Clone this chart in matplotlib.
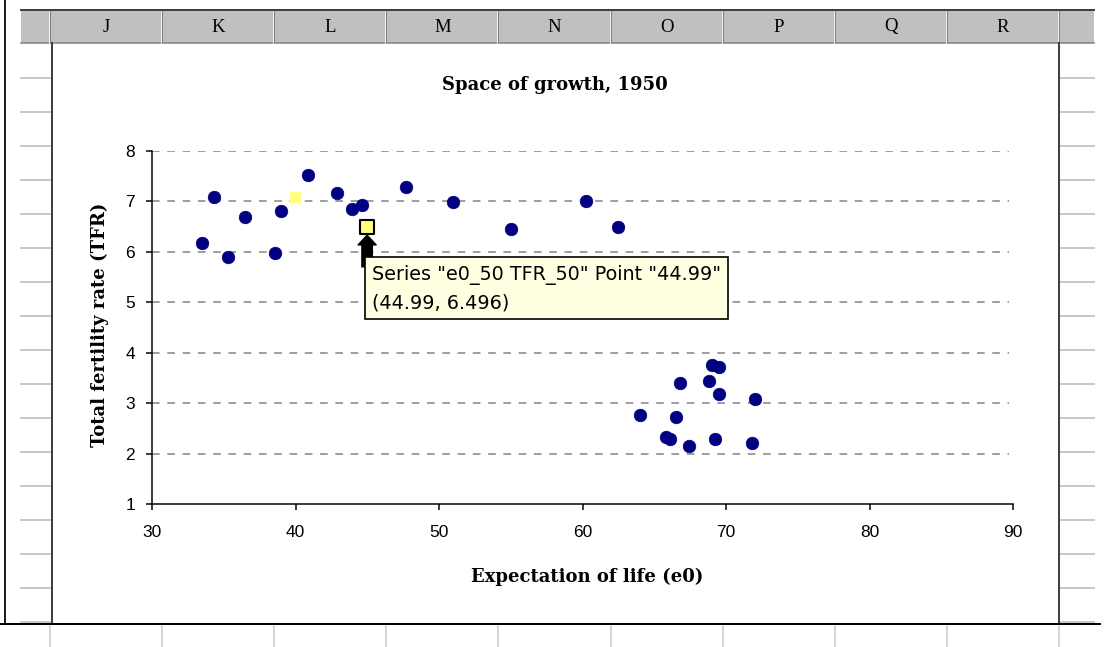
import matplotlib
matplotlib.use("Agg")
import matplotlib.pyplot as plt
from matplotlib.patches import Rectangle

# ---------------- data ----------------
e0_50 = [33.5, 34.3, 35.3, 36.5, 38.6, 39.0, 40.9, 42.9, 43.95, 44.65, 47.7, 50.97,
         55.0, 60.25, 62.5, 64.0, 65.8, 66.1, 66.5, 66.8, 67.4, 68.8, 69.0, 69.2,
         69.5, 69.5, 71.8, 72.0]
tfr_50 = [6.17, 7.08, 5.89, 6.69, 5.97, 6.82, 7.52, 7.17, 6.84, 6.93, 7.29, 6.98,
          6.45, 7.01, 6.50, 2.76, 2.32, 2.28, 2.72, 3.39, 2.16, 3.44, 3.76, 2.29,
          3.71, 3.19, 2.20, 3.08]
hover_point = (40.0, 7.08)       # pale yellow highlighted point
selected_point = (44.99, 6.496)  # selected point with tooltip
x_ticks = [30, 40, 50, 60, 70, 80, 90]
y_ticks = [1, 2, 3, 4, 5, 6, 7, 8]
columns = ["J", "K", "L", "M", "N", "O", "P", "Q", "R"]
title = "Space of growth, 1950"
xlabel = "Expectation of life (e0)"
ylabel = "Total fertility rate (TFR)"
tooltip = 'Series "e0_50 TFR_50" Point "44.99"\n(44.99, 6.496)'

W, H = 1110, 647
plt.rcParams['lines.scale_dashes'] = False
fig = plt.figure(figsize=(W / 100, H / 100), dpi=100)
fig.patch.set_facecolor("white")

PX = 0.72  # points per pixel

# ---------------- spreadsheet chrome ----------------
bg = fig.add_axes([0, 0, 1, 1], zorder=0)
bg.set_xlim(0, W)
bg.set_ylim(H, 0)
bg.axis("off")

bg.add_patch(Rectangle((21, 11), 1094 - 21, 32, facecolor="#c0c0c0", edgecolor="none"))
bg.plot([21, 1094], [10, 10], color="#404040", lw=2 * PX)
bg.plot([21, 1094], [43, 43], color="#808080", lw=1.5 * PX)
col_w = 112.1
seps = [50 + col_w * i for i in range(len(columns) + 1)]
for s in seps:
    bg.plot([s - 1, s - 1], [11, 43], color="#f0f0f0", lw=1 * PX)
    bg.plot([s, s], [11, 43], color="#808080", lw=1 * PX)
for i, c in enumerate(columns):
    bg.text(seps[i] + col_w / 2, 27, c, ha="center", va="center",
            fontsize=13.5, family="Liberation Serif", color="#000000")

y = 78
while y < 623:
    bg.plot([21, 50], [y, y], color="#c8c8c8", lw=2 * PX)
    bg.plot([1060, 1094], [y, y], color="#c8c8c8", lw=2 * PX)
    y += 34

bg.add_patch(Rectangle((52, 43), 1059 - 52, 623 - 43, facecolor="white", edgecolor="none"))
bg.plot([52, 52], [43, 623], color="#404040", lw=2 * PX)
bg.plot([1059, 1059], [43, 623], color="#404040", lw=2 * PX)

bg.plot([5, 5], [0, 624], color="#202020", lw=2 * PX)
bg.plot([0, 1100], [624, 624], color="#000000", lw=2 * PX)
for s in seps:
    bg.plot([s, s], [626, H], color="#c8c8c8", lw=1.5 * PX)

# ---------------- chart ----------------
l, r, t, b = 152, 1013, 151, 504
ax = fig.add_axes([l / W, (H - b) / H, (r - l) / W, (b - t) / H], zorder=2)
ax.set_facecolor("none")
ax.set_xlim(30, 90)
ax.set_ylim(1, 8)
ax.set_xticks(x_ticks)
ax.set_yticks(y_ticks)
for sp in ["top", "right"]:
    ax.spines[sp].set_visible(False)
for sp in ["left", "bottom"]:
    ax.spines[sp].set_linewidth(1.5 * PX)
    ax.spines[sp].set_color("black")
ax.tick_params(axis="both", direction="out", length=6 * PX, width=1.5 * PX,
               labelsize=12.5, pad=8)
for lab in ax.get_xticklabels() + ax.get_yticklabels():
    lab.set_family("Liberation Sans")
ax.tick_params(axis="x", pad=11)

for yv in y_ticks[1:]:
    ax.axhline(yv, color="#a0a0a0", lw=2 * PX, dashes=(5.5, 5.5), zorder=1,
               xmax=0.995)

ax.scatter(e0_50, tfr_50, s=82, color="#000080", edgecolors="#000080", lw=0.5, zorder=3)
ax.scatter([hover_point[0]], [hover_point[1]], s=70, marker="s", color="#ffff80",
           edgecolors="none", zorder=3)
ax.scatter([selected_point[0]], [selected_point[1]], s=100, marker="s", color="#ffff80",
           edgecolors="black", lw=1.5, zorder=4)

# cursor arrow pointing up at the selected point
ax.annotate("", xy=(selected_point[0], selected_point[1]), xytext=(0, -40),
            textcoords="offset pixels", xycoords="data",
            arrowprops=dict(arrowstyle="simple,head_length=0.7,head_width=1.3,tail_width=0.75",
                            color="black", shrinkA=0, shrinkB=6),
            zorder=5)

# tooltip
ax.annotate(tooltip, xy=(selected_point[0], selected_point[1]),
            xytext=(5, -38), textcoords="offset pixels",
            ha="left", va="top", fontsize=13.8, family="DejaVu Sans",
            linespacing=1.55, color="#000000", zorder=6,
            bbox=dict(boxstyle="square,pad=0.36", facecolor="#ffffe1",
                      edgecolor="black", lw=1.2))

# titles
tfont = dict(fontsize=13, fontweight="bold", family="DejaVu Serif")
fig.text(555 / W, 1 - 85 / H, title, ha="center", va="center", **tfont)
fig.text(587 / W, 1 - 577 / H, xlabel, ha="center", va="center", **tfont)
fig.text(100 / W, 1 - 325 / H, ylabel, ha="center", va="center", rotation=90, **tfont)

fig.savefig("out.png", dpi=100)
